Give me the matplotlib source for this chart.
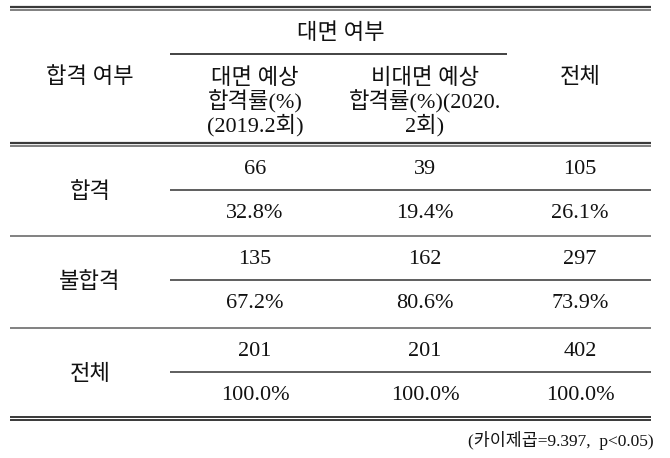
import matplotlib
matplotlib.use("Agg")
import matplotlib.pyplot as plt

plt.rcParams['font.family'] = ['Liberation Serif', 'Noto Sans CJK KR']

group_header = "대면 여부"
row_header = "합격 여부"
col_headers = ["대면 예상\n합격률(%)\n(2019.2회)", "비대면 예상\n합격률(%)(2020.\n2회)", "전체"]
row_labels = ["합격", "불합격", "전체"]
counts = [[66, 39, 105], [135, 162, 297], [201, 201, 402]]
percents = [["32.8%", "19.4%", "26.1%"], ["67.2%", "80.6%", "73.9%"], ["100.0%", "100.0%", "100.0%"]]
footnote = "(카이제곱=9.397,  p<0.05)"

W, H = 670, 458
fig = plt.figure(figsize=(W / 100, H / 100), dpi=100)
ax = fig.add_axes([0, 0, 1, 1])
ax.set_xlim(0, W)
ax.set_ylim(H, 0)
ax.axis('off')

x0, x1 = 10, 651
xsub = 170
col_x = [255, 425, 580]
label_x = 90
fs = 16
tc = '#111111'

def hline(y, xa, xb, c, lw):
    ax.plot([xa, xb], [y, y], color=c, lw=lw, solid_capstyle='butt')

# top double line
hline(6.5, x0, x1, '#3a3a3a', 1.6)
hline(9.5, x0, x1, '#808080', 1.4)

ax.text(341, 34, group_header, ha='center', va='center', fontsize=fs, color=tc)
hline(54, xsub, 507, '#222222', 1.2)

ax.text(label_x, 78, row_header, ha='center', va='center', fontsize=fs, color=tc)
for x, t in zip(col_x, col_headers):
    lines = t.split('\n')
    if len(lines) == 1:
        ax.text(x, 78, lines[0], ha='center', va='center', fontsize=fs, color=tc)
    else:
        for i, ln in enumerate(lines):
            ax.text(x, 78.5 + 23.5 * i, ln, ha='center', va='center', fontsize=fs, color=tc)

# header bottom double line
hline(142.7, x0, x1, '#3a3a3a', 1.6)
hline(145.7, x0, x1, '#808080', 1.4)

row_tops = [146, 236, 328]
for r in range(3):
    top = row_tops[r]
    yc = top + 24
    yp = top + 68
    ax.text(label_x, (yc + yp) / 2 + 1, row_labels[r], ha='center', va='center', fontsize=fs, color=tc)
    for c in range(3):
        ax.text(col_x[c], yc, str(counts[r][c]), ha='center', va='center', fontsize=fs, color=tc)
        ax.text(col_x[c], yp, percents[r][c], ha='center', va='center', fontsize=fs, color=tc)
    hline(top + 44, xsub, x1, '#333333', 1.1)
    if r < 2:
        hline(row_tops[r + 1], x0, x1, '#777777', 1.3)

hline(417, x0, x1, '#2a2a2a', 1.3)
hline(420, x0, x1, '#2a2a2a', 1.3)

ax.text(654, 440, footnote, ha='right', va='center', fontsize=12.5, color=tc)

fig.savefig('out.png', dpi=100)
